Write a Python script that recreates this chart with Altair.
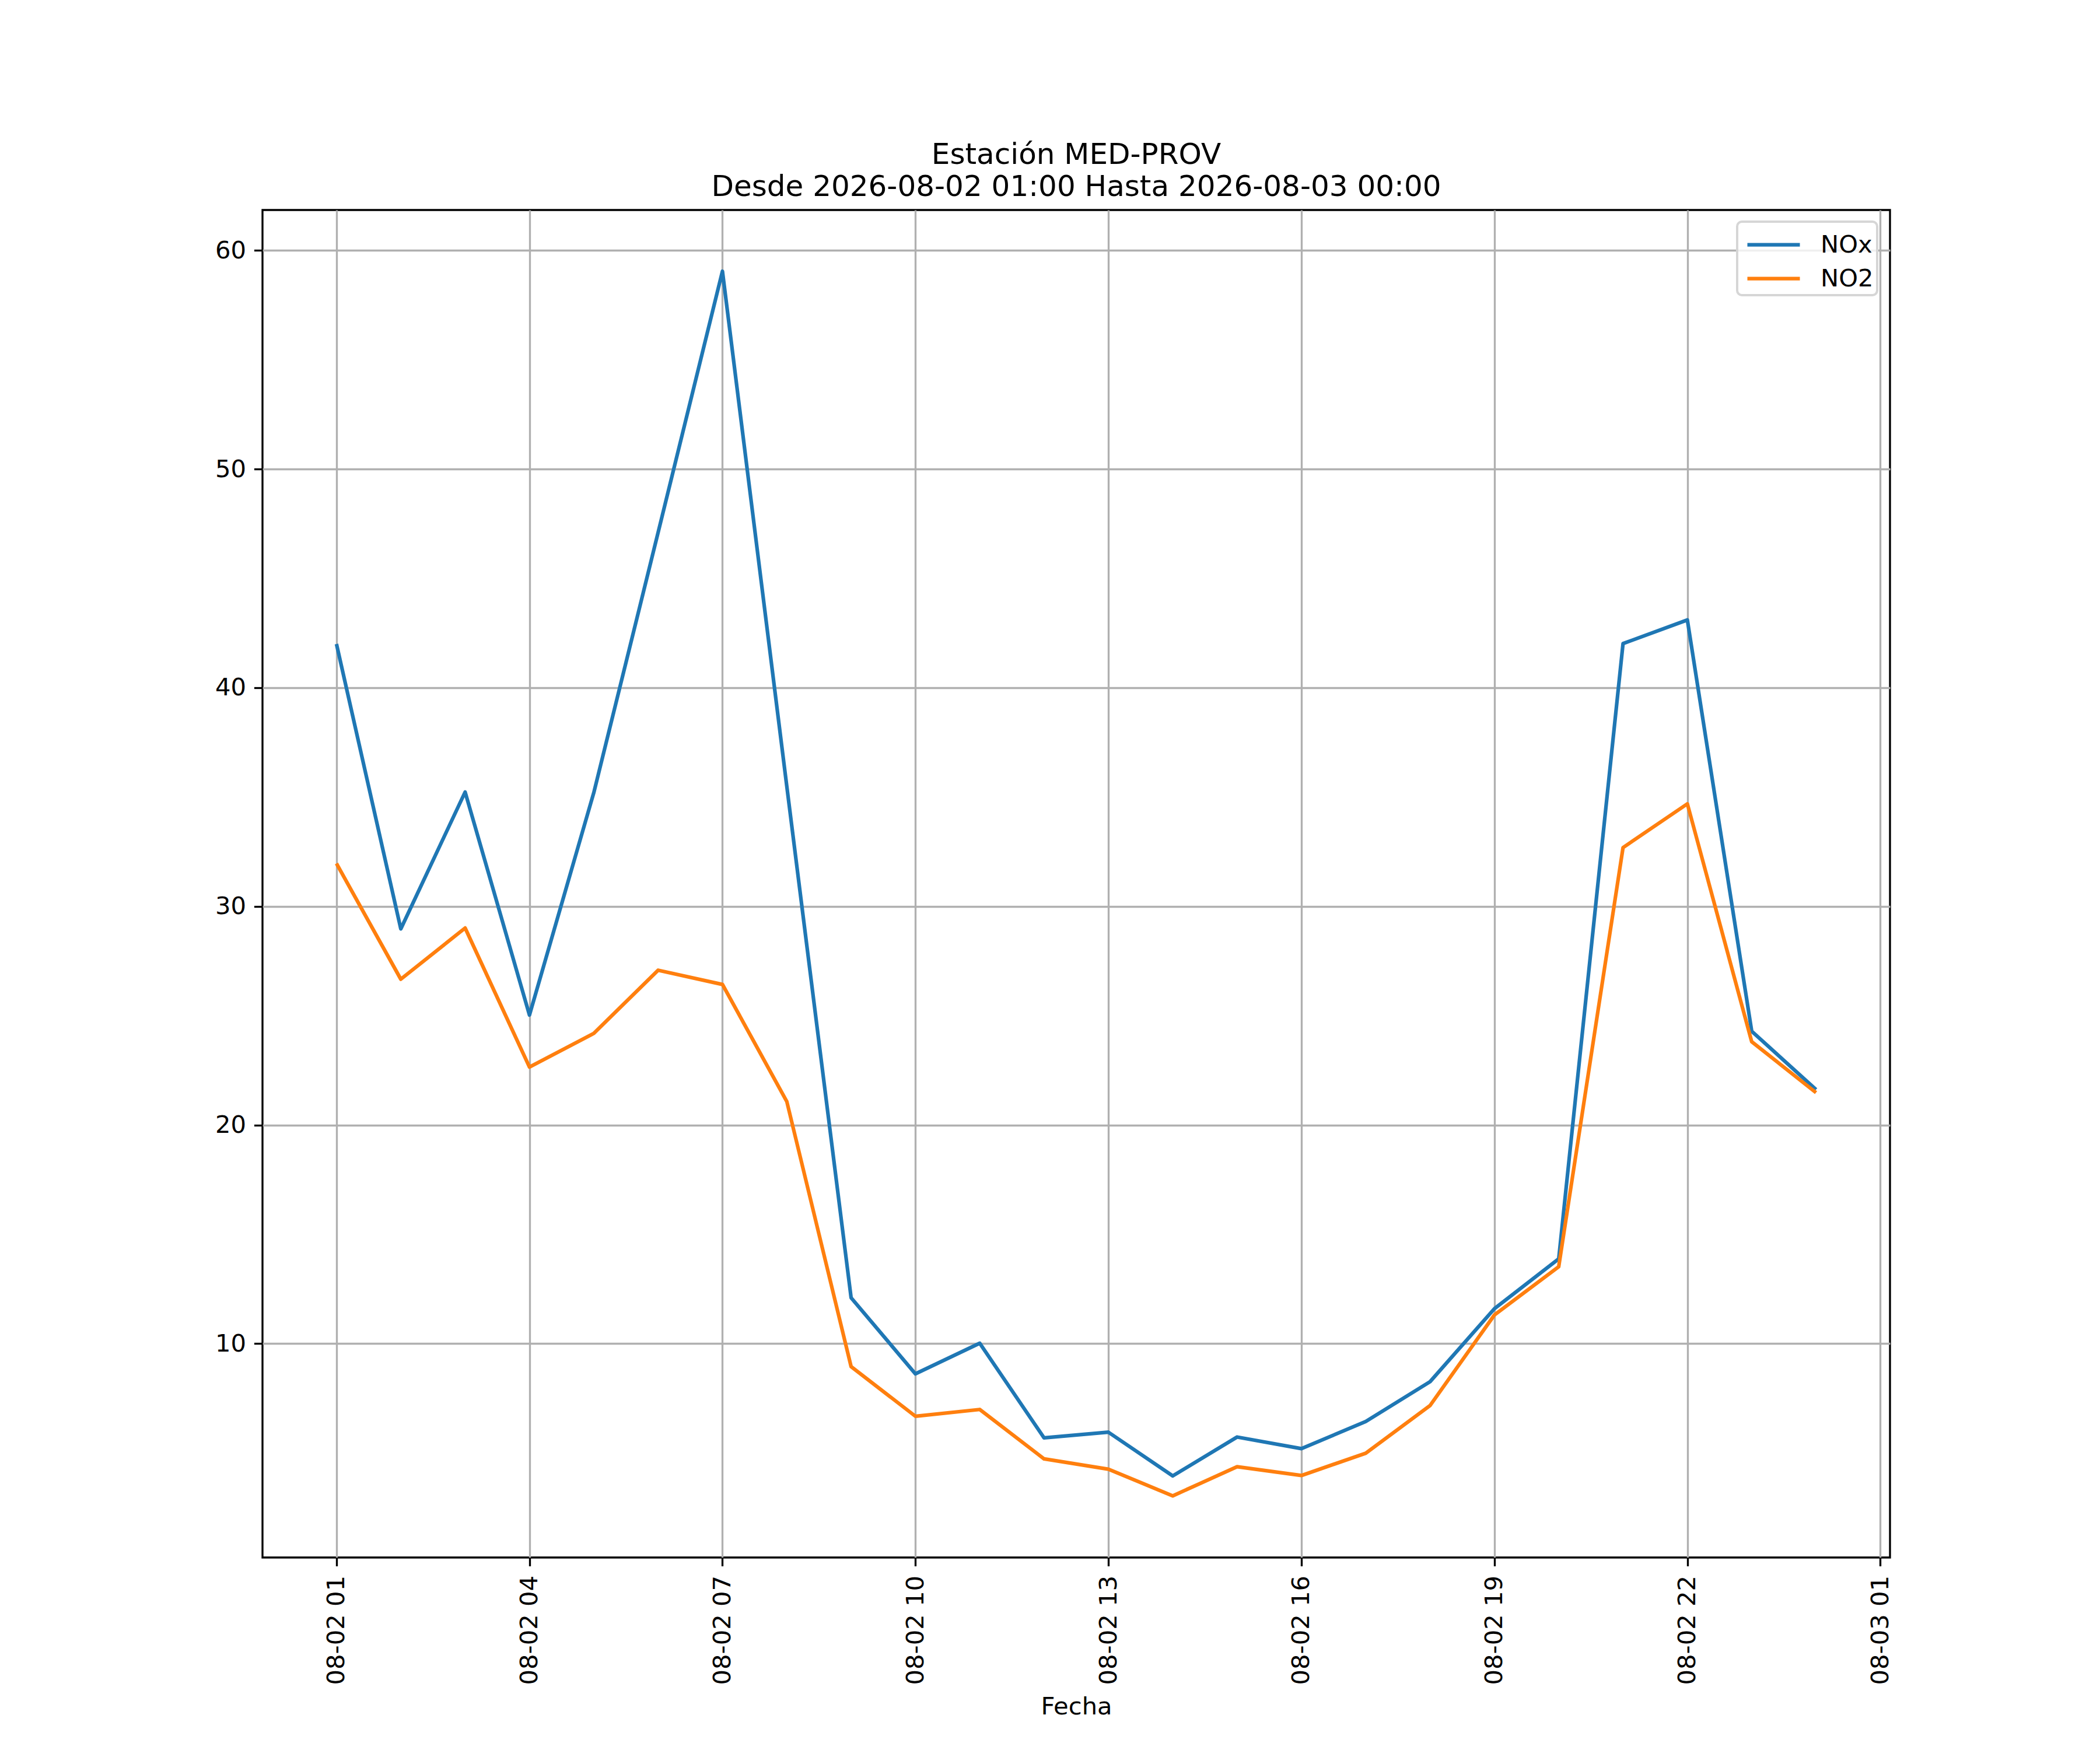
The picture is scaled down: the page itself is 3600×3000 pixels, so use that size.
import altair as alt
import pandas as pd

# ---- data ----
hours = ["2026-08-02T01:00:00Z", "2026-08-02T02:00:00Z", "2026-08-02T03:00:00Z",
         "2026-08-02T04:00:00Z", "2026-08-02T05:00:00Z", "2026-08-02T06:00:00Z",
         "2026-08-02T07:00:00Z", "2026-08-02T08:00:00Z", "2026-08-02T09:00:00Z",
         "2026-08-02T10:00:00Z", "2026-08-02T11:00:00Z", "2026-08-02T12:00:00Z",
         "2026-08-02T13:00:00Z", "2026-08-02T14:00:00Z", "2026-08-02T15:00:00Z",
         "2026-08-02T16:00:00Z", "2026-08-02T17:00:00Z", "2026-08-02T18:00:00Z",
         "2026-08-02T19:00:00Z", "2026-08-02T20:00:00Z", "2026-08-02T21:00:00Z",
         "2026-08-02T22:00:00Z", "2026-08-02T23:00:00Z", "2026-08-03T00:00:00Z"]

nox = [42.0, 28.97, 35.23, 25.03, 35.2, 47.1, 59.05, 35.5, 12.1, 8.62, 10.02, 5.69,
       5.95, 3.95, 5.73, 5.2, 6.44, 8.26, 11.6, 13.88, 42.02, 43.1, 24.29, 21.62]

no2 = [31.96, 26.67, 29.01, 22.65, 24.19, 27.08, 26.43, 21.08, 8.95, 6.68, 6.99, 4.73,
       4.26, 3.04, 4.37, 3.97, 4.99, 7.17, 11.31, 13.52, 32.69, 34.69, 23.81, 21.48]

series_names = ["NOx", "NO2"]
series_colors = ["#1f77b4", "#ff7f0e"]

title_lines = ["Estación MED-PROV", "Desde 2026-08-02 01:00 Hasta 2026-08-03 00:00"]
x_title = "Fecha"
y_ticks = [10, 20, 30, 40, 50, 60]
x_tick_hours = [(2, 1), (2, 4), (2, 7), (2, 10), (2, 13), (2, 16), (2, 19), (2, 22), (3, 1)]

df = pd.DataFrame({
    "Fecha": hours * 2,
    "valor": nox + no2,
    "serie": ["NOx"] * len(nox) + ["NO2"] * len(no2),
    "orden": [0] * len(nox) + [1] * len(no2),
})

FONT = "DejaVu Sans"
FS = 41.67

x_values = [alt.DateTime(year=2026, month=8, date=d, hours=h, utc=True) for d, h in x_tick_hours]
x_domain = [alt.DateTime(year=2026, month=8, date=1, hours=23, minutes=51, utc=True),
            alt.DateTime(year=2026, month=8, date=3, hours=1, minutes=9, utc=True)]

chart = alt.Chart(df).mark_line(strokeWidth=6.25, strokeJoin="round").encode(
    x=alt.X("Fecha:T",
            scale=alt.Scale(type="utc", domain=x_domain, nice=False),
            axis=alt.Axis(values=x_values,
                          labelExpr="utcFormat(datum.value, '%m-%d %H')",
                          labelAngle=270, labelAlign="right", labelBaseline="middle",
                          labelPadding=16, labelLimit=1000, title=x_title, titlePadding=35,
                          labelOverlap=False, labelFlush=False)),
    y=alt.Y("valor:Q",
            scale=alt.Scale(domain=[0.22, 61.85], nice=False, zero=False),
            axis=alt.Axis(values=y_ticks, title=None, labelPadding=14, format="d")),
    color=alt.Color("serie:N",
                    scale=alt.Scale(domain=series_names, range=series_colors),
                    legend=alt.Legend(title=None, orient="none", legendX=2528, legendY=20,
                                      symbolType="M-0.733,0H2.267", symbolSize=3600,
                                      symbolStrokeWidth=6.25, labelOffset=70,
                                      rowPadding=2, padding=6)),
    order=alt.Order("orden:Q"),
).properties(
    width=2790,
    height=2310,
    title=alt.TitleParams(text=title_lines, fontSize=50, font=FONT, fontWeight="normal",
                          color="black", anchor="middle", frame="group",
                          baseline="alphabetic", lineHeight=55, offset=-26),
    padding={"left": 442, "top": 352, "right": 352, "bottom": 322},
    autosize=alt.AutoSizeParams(type="none"),
).configure_view(
    stroke="black", strokeWidth=3.33
).configure_axis(
    domain=False,
    grid=True, gridColor="#b0b0b0", gridWidth=3.33, gridOpacity=1,
    tickColor="black", tickWidth=3.33, tickSize=14.6,
    labelFont=FONT, labelFontSize=FS, labelColor="black",
    titleFont=FONT, titleFontSize=FS, titleFontWeight="normal", titleColor="black",
).configure_legend(
    labelFont=FONT, labelFontSize=FS, labelColor="black",
    fillColor="rgba(255,255,255,0.8)", strokeColor="#d6d6d6", strokeWidth=4,
    cornerRadius=8,
)

chart.save("out.html", embed_options={"renderer": "svg", "actions": False})
